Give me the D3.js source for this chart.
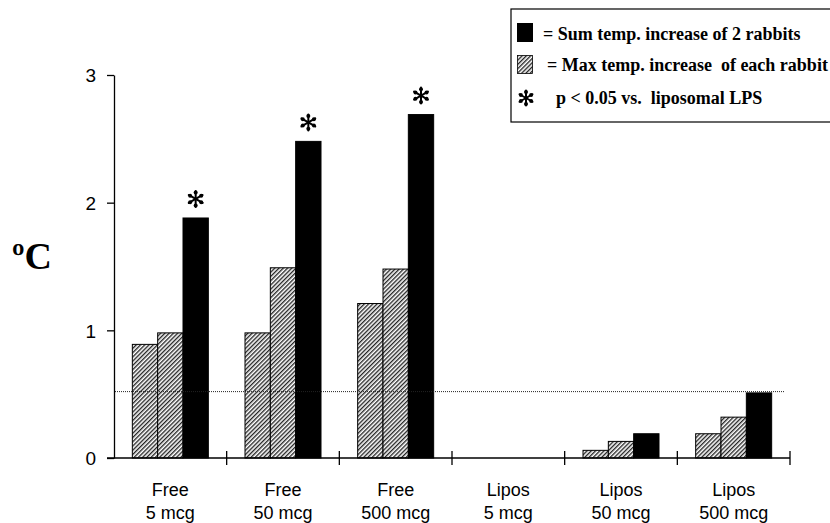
<!DOCTYPE html>
<html>
<head>
<meta charset="utf-8">
<script src="https://cdn.jsdelivr.net/npm/d3@7"></script>
<style>
  body { margin: 0; background: #fff; }
  svg { display: block; }
  .tick text { font-family: "Liberation Sans", Arial, sans-serif; font-size: 19px; fill: #000; }
  .xlabel { font-family: "Liberation Sans", Arial, sans-serif; font-size: 18px; fill: #000; }
  .legend text { font-family: "Liberation Serif", "Times New Roman", serif; font-weight: bold; font-size: 18px; fill: #000; }
</style>
</head>
<body>
<script>
//// DATA
var groupTop = ["Free", "Free", "Free", "Lipos", "Lipos", "Lipos"];
var groupBottom = ["5 mcg", "50 mcg", "500 mcg", "5 mcg", "50 mcg", "500 mcg"];
var rabbitA = [0.89, 0.98, 1.21, 0, 0.06, 0.19];
var rabbitB = [0.98, 1.49, 1.48, 0, 0.13, 0.32];
var sumTemp = [1.88, 2.48, 2.69, 0, 0.19, 0.51];
var significant = [true, true, true, false, false, false];
var yTicks = [0, 1, 2, 3];
var baseline = 0.52;

//// DIMENSIONS
var W = 830, H = 523;
var plot = {left: 114, right: 790, top: 75, bottom: 458};

var svg = d3.select("body").append("svg")
    .attr("width", W)
    .attr("height", H);

// Hatch pattern
var defs = svg.append("defs");
var pat = defs.append("pattern")
    .attr("id", "hatch")
    .attr("patternUnits", "userSpaceOnUse")
    .attr("width", 3)
    .attr("height", 3)
    .attr("patternTransform", "rotate(45)");
pat.append("rect").attr("width", 3).attr("height", 3).attr("fill", "#fff");
pat.append("line")
    .attr("x1", 0.7).attr("y1", 0).attr("x2", 0.7).attr("y2", 3)
    .attr("stroke", "#1a1a1a").attr("stroke-width", 1.3);

// Scales
var x0 = d3.scaleBand().domain(d3.range(groupTop.length)).range([plot.left, plot.right]);
var groupW = 76;
var x1 = d3.scaleBand().domain([0, 1, 2]).range([0, groupW]);
var y = d3.scaleLinear().domain([0, 3]).range([plot.bottom, plot.top]);

// Series table
var rows = groupTop.map(function(d, i) {
    return {i: i, vals: [rabbitA[i], rabbitB[i], sumTemp[i]]};
});

function groupX(i) { return x0(i) + (x0.bandwidth() - groupW) / 2; }

// Bars
var groups = svg.selectAll(".grp")
    .data(rows)
  .enter().append("g")
    .attr("class", "grp")
    .attr("transform", function(d) { return "translate(" + groupX(d.i) + ",0)"; });

groups.selectAll("rect")
    .data(function(d) {
        return d.vals.map(function(v, k) { return {k: k, v: v}; })
            .filter(function(e) { return e.v > 0; });
    })
  .enter().append("rect")
    .attr("x", function(d) { return x1(d.k); })
    .attr("y", function(d) { return y(d.v); })
    .attr("width", x1.bandwidth())
    .attr("height", function(d) { return y(0) - y(d.v); })
    .attr("fill", function(d) { return d.k === 2 ? "#000" : "url(#hatch)"; })
    .attr("stroke", "#000")
    .attr("stroke-width", 1);

// Asterisk drawing helper (6 arms, thicker at the ends)
function asterisk(g, cx, cy, r) {
    [90, 30, 150, 270, 210, 330].forEach(function(a) {
        var rad = a * Math.PI / 180;
        var ex = cx + r * Math.cos(rad), ey = cy + r * Math.sin(rad);
        g.append("line")
            .attr("x1", cx).attr("y1", cy)
            .attr("x2", ex).attr("y2", ey)
            .attr("stroke", "#000").attr("stroke-width", 2)
            .attr("stroke-linecap", "round");
        g.append("circle")
            .attr("cx", cx + (r - 1.6) * Math.cos(rad))
            .attr("cy", cy + (r - 1.6) * Math.sin(rad))
            .attr("r", 2).attr("fill", "#000");
    });
}

rows.forEach(function(d) {
    if (!significant[d.i]) return;
    var cx = groupX(d.i) + x1(2) + x1.bandwidth() / 2;
    asterisk(svg.append("g"), cx, y(sumTemp[d.i]) - 19, 8);
});

// Dotted reference line
svg.append("line")
    .attr("x1", plot.left + 1).attr("x2", 785)
    .attr("y1", y(baseline)).attr("y2", y(baseline))
    .attr("stroke", "#222").attr("stroke-width", 1)
    .attr("stroke-dasharray", "1,1");

// Y axis
var yAxis = d3.axisLeft(y)
    .tickValues(yTicks)
    .tickFormat(d3.format("d"))
    .tickSize(7).tickSizeOuter(0).tickPadding(11);
var gy = svg.append("g")
    .attr("transform", "translate(" + plot.left + ",0)")
    .call(yAxis);
gy.selectAll("path, line").attr("stroke", "#000").attr("stroke-width", 1.3);
gy.selectAll("text").attr("dy", "0.36em");

// X axis line and category ticks
svg.append("line")
    .attr("x1", plot.left - 7).attr("x2", plot.right)
    .attr("y1", y(0)).attr("y2", y(0))
    .attr("stroke", "#000").attr("stroke-width", 1.3);

var bounds = d3.range(1, groupTop.length + 1).map(function(i) {
    return i < groupTop.length ? x0(i) : plot.right;
});
svg.selectAll(".xtick")
    .data(bounds)
  .enter().append("line")
    .attr("class", "xtick")
    .attr("x1", function(d) { return d; }).attr("x2", function(d) { return d; })
    .attr("y1", y(0) - 7).attr("y2", y(0) + 7)
    .attr("stroke", "#000").attr("stroke-width", 1.3);

// X labels
var xl = svg.selectAll(".xlabel")
    .data(rows)
  .enter().append("text")
    .attr("class", "xlabel")
    .attr("text-anchor", "middle");
xl.append("tspan")
    .attr("x", function(d) { return x0(d.i) + x0.bandwidth() / 2; })
    .attr("y", 496)
    .text(function(d) { return groupTop[d.i]; });
xl.append("tspan")
    .attr("x", function(d) { return x0(d.i) + x0.bandwidth() / 2; })
    .attr("y", 519)
    .text(function(d) { return groupBottom[d.i]; });

// Y label
svg.append("text")
    .attr("x", 12).attr("y", 269)
    .attr("font-family", "Liberation Serif, Times New Roman, serif")
    .attr("font-weight", "bold")
    .attr("font-size", "38px")
    .text("\u00BAC");

// Legend
var lg = svg.append("g").attr("class", "legend");
lg.append("rect")
    .attr("x", 511).attr("y", 9).attr("width", 340).attr("height", 113)
    .attr("fill", "#fff").attr("stroke", "#000").attr("stroke-width", 1.2);
lg.append("rect")
    .attr("x", 517).attr("y", 23).attr("width", 16).attr("height", 19)
    .attr("fill", "#000");
lg.append("rect")
    .attr("x", 517.5).attr("y", 55.5).attr("width", 15).attr("height", 18)
    .attr("fill", "url(#hatch)").attr("stroke", "#000").attr("stroke-width", 0.8);
asterisk(lg, 526, 98, 7.5);
lg.append("text").attr("x", 543).attr("y", 40).text("= Sum temp. increase of 2 rabbits");
lg.append("text").attr("x", 547).attr("y", 71).attr("xml:space", "preserve").text("= Max temp. increase  of each rabbit");
lg.append("text").attr("x", 556).attr("y", 104).attr("xml:space", "preserve").text("p < 0.05 vs.  liposomal LPS");
</script>
</body>
</html>
